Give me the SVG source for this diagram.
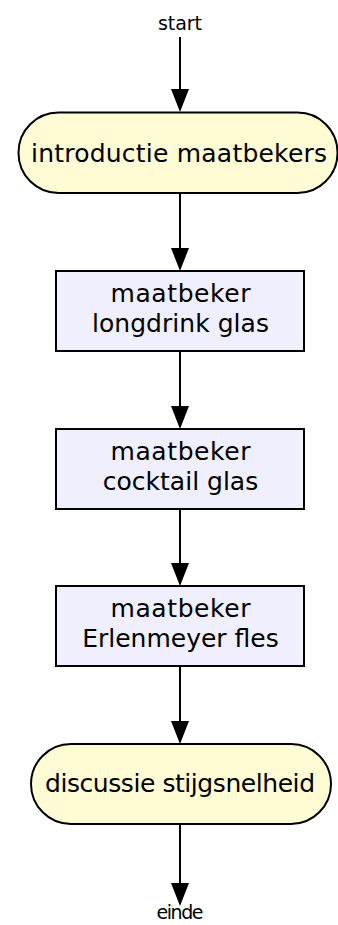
<svg xmlns="http://www.w3.org/2000/svg" width="338" height="925" viewBox="0 0 338 925">
  <style>
    .term { fill: #fffbd5; stroke: #000; stroke-width: 2; }
    .proc { fill: #efeffd; stroke: #000; stroke-width: 2; }
    .lbl { font-family: "DejaVu Sans", "Liberation Sans", sans-serif; font-size: 25px; fill: #000; text-anchor: middle; }
    .end { font-family: "DejaVu Sans", "Liberation Sans", sans-serif; font-size: 19px; fill: #000; text-anchor: middle; }
    .edge { stroke: #000; stroke-width: 2; fill: none; marker-end: url(#arrow); }
  </style>
  <defs>
    <marker id="arrow" markerUnits="userSpaceOnUse" markerWidth="23" markerHeight="19" refX="12" refY="9" orient="auto">
      <path d="M0,0 L23,9 L0,18 z" fill="#000"/>
    </marker>
  </defs>
  <rect width="338" height="925" fill="#fff"/>

  <g id="connectors">
    <line class="edge" x1="180" y1="37" x2="180" y2="101"/>
    <line class="edge" x1="180" y1="193" x2="180" y2="260"/>
    <line class="edge" x1="180" y1="351" x2="180" y2="418"/>
    <line class="edge" x1="180" y1="509" x2="180" y2="575"/>
    <line class="edge" x1="180" y1="666" x2="180" y2="733"/>
    <line class="edge" x1="180" y1="824" x2="180" y2="895"/>
  </g>

  <g id="start">
    <text class="end" x="180" y="30" textLength="44">start</text>
  </g>

  <g id="intro">
    <rect class="term" x="18.5" y="112.5" width="319" height="80.5" rx="40" ry="40"/>
    <text class="lbl" x="179" y="162" textLength="296">introductie maatbekers</text>
  </g>

  <g id="longdrink">
    <rect class="proc" x="56" y="271" width="248" height="80"/>
    <text class="lbl" x="180.5" y="302" textLength="140">maatbeker</text>
    <text class="lbl" x="180.5" y="332" textLength="177">longdrink glas</text>
  </g>

  <g id="cocktail">
    <rect class="proc" x="56" y="429" width="248" height="80"/>
    <text class="lbl" x="180.5" y="460" textLength="140">maatbeker</text>
    <text class="lbl" x="180.5" y="490">cocktail glas</text>
  </g>

  <g id="erlenmeyer">
    <rect class="proc" x="56" y="586" width="248" height="80"/>
    <text class="lbl" x="180.5" y="617" textLength="140">maatbeker</text>
    <text class="lbl" x="180.5" y="647">Erlenmeyer fles</text>
  </g>

  <g id="discussie">
    <rect class="term" x="31" y="744" width="300" height="80" rx="40" ry="40"/>
    <text class="lbl" x="180" y="792" textLength="270">discussie stijgsnelheid</text>
  </g>

  <g id="einde">
    <text class="end" x="180" y="919" textLength="47">einde</text>
  </g>
</svg>
